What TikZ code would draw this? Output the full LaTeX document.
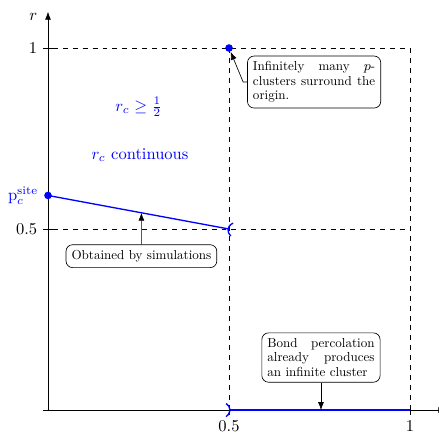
\documentclass[tikz,border=0pt]{standalone}
\usepackage{amsmath,amssymb}
\usepackage{fontspec}
\usepackage{tikz}
\usetikzlibrary{positioning,arrows.meta}

\newfontfamily\boxfont{lmroman10-regular.otf}

\tikzset{
	remark/.style={draw,rounded corners,fill=white,font=\boxfont\fontsize{7.9}{8.8}\selectfont,align=justify},
	bluedot/.style={circle,fill=blue,inner sep=0pt,minimum size=4.6pt},
	openend/.tip={Parenthesis[reversed,scale=1.4]},
}

\begin{document}
\begin{tikzpicture}[x=7.7cm,y=7.7cm,>=Latex]
		
		\useasboundingbox (-0.1326,-0.069) rectangle (1.080,1.1326);
		
		\draw[->] (-3pt,0) -- (1.1,0) node[below] (plabel) {$p$};
		\draw[->] (0,0) -- (0,1.1) node[left=3pt,yshift=-3pt] (rlabel) {$r$};
		
		\draw (-3pt,1) -- (3pt,1) node[left=6pt] (yone) {$1$};
		\draw (-3pt,0.5) -- (3pt,0.5) node[left=6pt] (yhalf) {$0.5$};
		\draw (0.5,-3pt) -- (0.5,3pt);
		\draw (1,-3pt) -- (1,3pt);
		\node[below] (xhalf) at (0.5,-3pt) {$0.5$};
		\node[below] (xone) at (1,-3pt) {$1$};
		
		\draw[dashed] (3pt,1) -- (1,1) -- (1,0);
		\draw[dashed] (3pt,0.5) -- (1,0.5);
		\draw[dashed] (0.5,1) -- (0.5,0);
		
		\node[bluedot] (psite) at (0,0.5927) {};
		\node[blue,left] (psitelabel) at (psite.west) {$\mathrm{p}_c^{\mathrm{site}}$};
		\coordinate (half) at (0.5,0.5);
		\draw[blue,thick,-openend,shorten >=-2pt] (psite.center) -- (half) coordinate[pos=0.516] (simpt);
		
		\node[bluedot] (top) at (0.5,1) {};
		
		\coordinate (xhalfpt) at (0.5,0);
		\coordinate (xonept) at (1,0);
		\draw[blue,thick,openend-,shorten <=-2pt] (xhalfpt) -- (xonept);
		
		\node[blue] (bound) at (0.251,0.837) {$r_c \geq \frac{1}{2}$};
		\node[blue] (cont) at (0.254,0.704) {$r_c$ continuous};
		
		\node[remark,text width=2.6cm] (infinite) at (0.735,0.906)
		{Infinitely many $p$-\linebreak clusters surround the origin.};
		\draw[->] (infinite.west) -- ++(-0.011,0) -- (top);
		
		\node[remark] (obtained) at (0.258,0.425)
		{Obtained by simulations};
		\draw[->] (obtained) -- (simpt);
		
		\node[remark,text width=2.28cm] (bond) at (0.754,0.145)
		{Bond percolation already produces an infinite cluster};
		\coordinate (bondpt) at (0.754,0);
		\draw[->] (bond) -- (bondpt);
		
	\end{tikzpicture}
\end{document}
